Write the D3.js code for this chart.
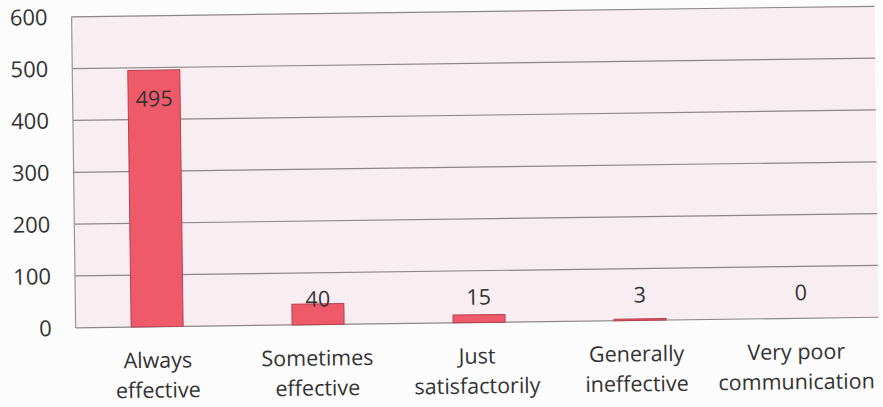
<!DOCTYPE html>
<html><head><meta charset="utf-8">
<script src="https://cdn.jsdelivr.net/npm/d3@7"></script>
<style>
html,body{margin:0;padding:0;background:#fdfcfc;}
svg{display:block;}
text{font-family:"Open Sans",sans-serif;fill:#333;}
</style></head><body>
<script>
const categories = [["Always","effective"],["Sometimes","effective"],["Just","satisfactorily"],["Generally","ineffective"],["Very poor","communication"]];
const values = [495, 40, 15, 3, 0];
const yTicks = [0, 100, 200, 300, 400, 500, 600];

const W = 883, H = 407;
const pLeft = 74, pRight = 877, pTop = 12, pBottom = 323;
const svg = d3.select("body").append("svg").attr("width", W).attr("height", H);
const g = svg.append("g").attr("transform", "rotate(-0.75 440 200)");

const x = d3.scaleBand().domain(d3.range(categories.length)).range([pLeft + 1, pRight + 3]).padding(0);
const xLab = d3.scaleBand().domain(d3.range(categories.length)).range([pLeft + 2, pRight - 3]).padding(0);
const y = d3.scaleLinear().domain([0, 600]).range([pBottom, pTop]);
const barW = 52;

g.append("rect").attr("x", pLeft).attr("y", pTop).attr("width", pRight - pLeft).attr("height", pBottom - pTop)
  .attr("fill", "#f8edf0");

g.append("g").selectAll("line").data(yTicks).join("line")
  .attr("x1", pLeft).attr("x2", pRight).attr("y1", d => y(d)).attr("y2", d => y(d))
  .attr("stroke", "#8c8686").attr("stroke-width", 1.2);
g.append("line").attr("x1", pLeft).attr("x2", pLeft).attr("y1", pTop).attr("y2", pBottom)
  .attr("stroke", "#9a9494").attr("stroke-width", 1.2);

g.append("g").selectAll("text").data(yTicks).join("text")
  .attr("x", pLeft - 24).attr("y", d => y(d)).attr("dy", "0.36em")
  .attr("text-anchor", "end").attr("font-size", 22).text(d => d);

g.append("g").selectAll("rect").data(values).join("rect")
  .attr("x", (d, i) => x(i) + x.bandwidth() / 2 - barW / 2)
  .attr("y", d => y(d)).attr("width", barW).attr("height", d => y(0) - y(d))
  .attr("fill", "#ee5a69").attr("stroke", "#b8404e").attr("stroke-width", d => d > 0 ? 1 : 0);

g.append("g").selectAll("text").data(values).join("text")
  .attr("x", (d, i) => x(i) + x.bandwidth() / 2)
  .attr("y", d => Math.min(y(d) + 36, y(0) - 18))
  .attr("text-anchor", "middle").attr("font-size", 21.5).text(d => d);

const lab = g.append("g").selectAll("text").data(categories).join("text")
  .attr("text-anchor", "middle").attr("font-size", 21.5);
lab.selectAll("tspan").data((d, i) => d.map(t => ({t, i}))).join("tspan")
  .attr("x", d => xLab(d.i) + xLab.bandwidth() / 2)
  .attr("y", (d, j) => 364 + j * 30)
  .text(d => d.t);
</script>
</body></html>
